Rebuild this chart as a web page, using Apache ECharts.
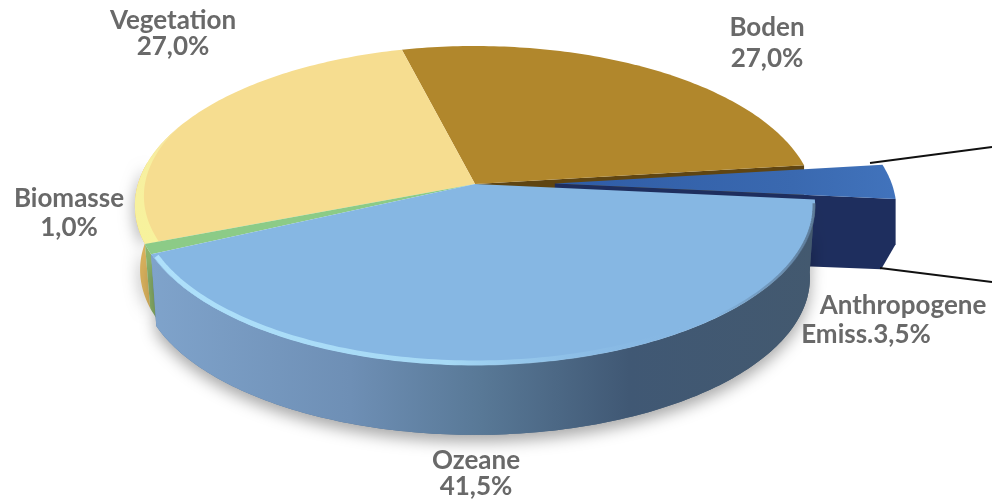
<!DOCTYPE html>
<html><head><meta charset="utf-8">
<style>html,body{margin:0;padding:0;background:#fff}#c{width:992px;height:502px}</style>
<script src="https://cdn.jsdelivr.net/npm/echarts@6/dist/echarts.min.js"></script>
</head><body><div id="c"></div>
<script>
const categories = ['Boden','Anthropogene Emiss.','Ozeane','Biomasse','Vegetation'];
const values = [27.0, 3.5, 41.5, 1.0, 27.0];
const startAngle = -14.2;
const explode = [0, 0.237, 0, 0, 0];
const topColors = ['#B1872C','#3A69B0','#86B7E3','#8CCB87','#F6DD90'];
const wallColors = ['#5f4512','#1E2E5E','#5a7a9c','#8DB56C','#D8B05C'];
const labelLines = [['Boden'],['Anthropogene','Emiss.'],['Ozeane'],['Biomasse'],['Vegetation']];
const labelPos = [[[767,28],[767,59]],[[903,306],[866,335]],[[476,461],[476,487]],[[69,199],[69,228]],[[173,21],[173,47]]];

const cx=475, cy=184, a=337, b=156.6, k=0.1348, H=73;
const G=echarts.graphic;
const rad=d=>d*Math.PI/180;
function proj(t,r,h,off){
  const X=r*Math.sin(rad(t))+off[0], Y=r*Math.cos(rad(t))+off[1], d=1+k*Y;
  return [cx+a*X/d, cy-b*Y/d+(h||0)];
}
function arc(t1,t2,r,h,off){
  const n=Math.max(2,Math.ceil(Math.abs(t2-t1)));const p=[];
  for(let i=0;i<=n;i++)p.push(proj(t1+(t2-t1)*i/n,r,h,off));
  return p;
}
const total=values.reduce((s,v)=>s+v,0);
const poly=(points,fill,z2,extra)=>Object.assign({type:'polygon',shape:{points},style:Object.assign({fill},extra||{}),z2,silent:true});
function lin(x0,y0,x1,y1,st){return new G.LinearGradient(x0,y0,x1,y1,st.map(s=>({offset:s[0],color:s[1]})));}
const CHAMFER=0.985;

function renderItem(params,api){
  const i=params.dataIndex, v=api.value(0);
  let before=0; for(let j=0;j<i;j++)before+=values[j];
  const t1=startAngle+before/total*360, t2=t1+v/total*360, mid=(t1+t2)/2;
  const e=explode[i], off=[Math.sin(rad(mid))*e,Math.cos(rad(mid))*e];
  const kids=[];
  const topPts=[proj(0,0,0,off)].concat(arc(t1,t2,1,0,off));
  const name=categories[i];
  if(name==='Boden'){
    const c0=proj(0,0,0,off),c1=proj(t2,1,0,off);
    kids.push(poly([c0,c1,[c1[0],c1[1]+H],[c0[0],c0[1]+H]],wallColors[i],1));
    kids.push(poly(topPts,topColors[i],2));
  }
  if(name==='Anthropogene Emiss.'){
    const c0=proj(0,0,0,off), end=proj(t2,1,0,off), endM=proj(t2,1,H*0.62,off), endB=proj(t2,0.958,H-2,off);
    kids.push(poly([c0,end,endM,endB,[c0[0],c0[1]+H]],wallColors[i],3));
    kids.push(poly(topPts,lin(0,0,1,0,[[0,'#2F5CA6'],[0.7,'#3A69B0'],[1,'#4173BC']]),4));
  }
  if(name==='Vegetation'){
    const wall=arc(t1,278,1,0,off).concat(arc(278,t1,CHAMFER,H-8,off));
    kids.push(poly(wall,wallColors[i],6,{shadowBlur:14,shadowColor:'rgba(0,0,0,0.28)',shadowOffsetX:-2,shadowOffsetY:5}));
    kids.push(poly(topPts,topColors[i],7));
    const n=44, inner=[];
    for(let j=n;j>=0;j--) inner.push(proj(t1+j,1-0.04*(1-j/n),0,off));
    kids.push(poly(arc(t1,t1+n,1,0,off).concat(inner),lin(0,1,0,0,[[0,'#F7F29C'],[0.7,'#F7F0A0'],[1,'#F6E2A0']]),8));
  }
  if(name==='Biomasse'){
    kids.push(poly(arc(t1,t2,1,0,off).concat(arc(t2,t1,CHAMFER,H-8,off)),wallColors[i],9));
    kids.push(poly(topPts,topColors[i],10));
  }
  if(name==='Ozeane'){
    const wall=arc(t1,t2,1,0,off).concat(arc(t2,t1,CHAMFER,H,off));
    kids.push(poly(wall,lin(0,0,1,0,[[0,'#5b7fa8'],[1,'#3d5166']]),11,{shadowBlur:15,shadowColor:'rgba(0,0,0,0.34)',shadowOffsetX:0,shadowOffsetY:7}));
    kids.push(poly(wall,lin(0,0,1,0,[[0,'#7FA3CB'],[0.3,'#6E8FB5'],[0.5,'#587896'],[0.72,'#405874'],[1,'#43596F']]),12));
    kids.push(poly(topPts,topColors[i],13));
    kids.push({type:'polyline',shape:{points:arc(244,146,0.99,0,off)},silent:true,z2:14,
      style:{fill:null,lineWidth:5,stroke:lin(0,0,1,0,[[0,'#AEE0FA'],[0.55,'#A6D9F5'],[1,'rgba(134,183,227,0)']])}});
    kids.push({type:'polyline',shape:{points:arc(97,140,0.997,0,off)},silent:true,z2:14,
      style:{fill:null,lineWidth:3,stroke:lin(0,0,1,0,[[0,'rgba(75,97,120,0)'],[1,'rgba(75,97,120,0.7)']])}});
  }
  const lines=labelLines[i].slice();
  const pct=v.toFixed(1).replace('.',',')+'%';
  if(lines.length===2) lines[1]=lines[1]+pct; else lines.push(pct);
  lines.forEach((t,n)=>{
    kids.push({type:'text',z2:20,silent:true,x:labelPos[i][n][0],y:labelPos[i][n][1],
      style:{text:t,fill:'#696969',font:'bold 26px Lato, "Open Sans", sans-serif',align:'center',verticalAlign:'middle'}});
  });
  return {type:'group',children:kids};
}

const chart=echarts.init(document.getElementById('c'),null,{renderer:'canvas'});
chart.setOption({
  animation:false,
  backgroundColor:'#ffffff',
  series:[{type:'custom',coordinateSystem:'none',renderItem,data:values.map(v=>[v]),silent:true}],
  graphic:[
    {type:'line',shape:{x1:870,y1:163,x2:992,y2:147},style:{stroke:'#111',lineWidth:2},z:10,silent:true},
    {type:'line',shape:{x1:880,y1:268,x2:992,y2:282},style:{stroke:'#111',lineWidth:2},z:10,silent:true}
  ]
});
</script></body></html>
